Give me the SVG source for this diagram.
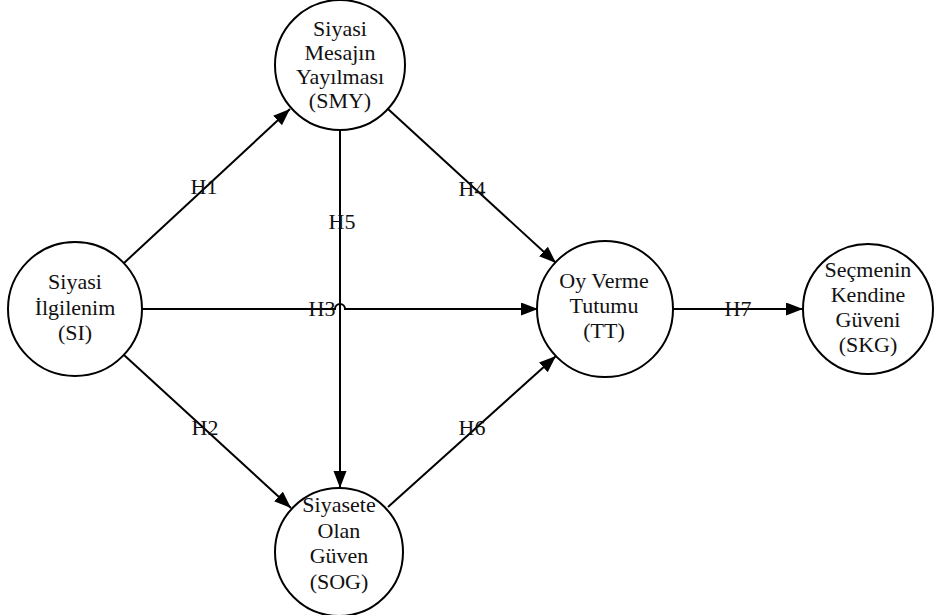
<svg xmlns="http://www.w3.org/2000/svg" width="934" height="615" viewBox="0 0 934 615">
<defs>
<style>
.n{fill:#fff;stroke:#000;stroke-width:2}
.ea{stroke:#000;stroke-width:2;fill:none;marker-end:url(#ah)}
</style>
<marker id="ah" markerUnits="userSpaceOnUse" markerWidth="18" markerHeight="14" refX="17" refY="6.5" orient="auto">
<path d="M0,0 L17,6.5 L0,13 z" fill="#000"/>
</marker>
</defs>
<rect width="934" height="615" fill="#fff"/>
<g font-family="Liberation Serif, Times New Roman, serif" font-size="22" fill="#111" text-anchor="middle">
<g id="connectors">
<line class="ea" x1="124" y1="263" x2="290" y2="109"/>
<line class="ea" x1="124" y1="355" x2="291" y2="508"/>
<path class="ea" d="M142,309 H335 A5,5 0 0 1 345,309 H538"/>
<line class="ea" x1="388" y1="109" x2="556" y2="263"/>
<line class="ea" x1="340" y1="130" x2="340" y2="488"/>
<line class="ea" x1="388" y1="507" x2="556" y2="356"/>
<line class="ea" x1="673" y1="309" x2="803" y2="309"/>
<text x="204" y="194">H1</text>
<text x="205" y="435">H2</text>
<text x="322" y="316">H3</text>
<text x="472" y="196">H4</text>
<text x="342" y="229">H5</text>
<text x="472" y="435">H6</text>
<text x="738" y="316">H7</text>
</g>
<g id="SMY">
<circle class="n" cx="340" cy="65" r="65"/>
<text x="340" y="36">Siyasi</text>
<text x="340" y="60">Mesajın</text>
<text x="340" y="84">Yayılması</text>
<text x="340" y="108">(SMY)</text>
</g>
<g id="SI">
<circle class="n" cx="75" cy="309" r="67"/>
<text x="75" y="289">Siyasi</text>
<text x="75" y="315">İlgilenim</text>
<text x="75" y="340">(SI)</text>
</g>
<g id="TT">
<circle class="n" cx="605" cy="309" r="68"/>
<text x="604" y="288">Oy Verme</text>
<text x="604" y="313">Tutumu</text>
<text x="604" y="338">(TT)</text>
</g>
<g id="SKG">
<circle class="n" cx="868" cy="309" r="65"/>
<text x="868" y="277">Seçmenin</text>
<text x="868" y="302">Kendine</text>
<text x="868" y="327">Güveni</text>
<text x="868" y="352">(SKG)</text>
</g>
<g id="SOG">
<circle class="n" cx="339" cy="552" r="64"/>
<text x="339" y="512">Siyasete</text>
<text x="339" y="538">Olan</text>
<text x="339" y="563">Güven</text>
<text x="339" y="589">(SOG)</text>
</g>
</g>
</svg>
